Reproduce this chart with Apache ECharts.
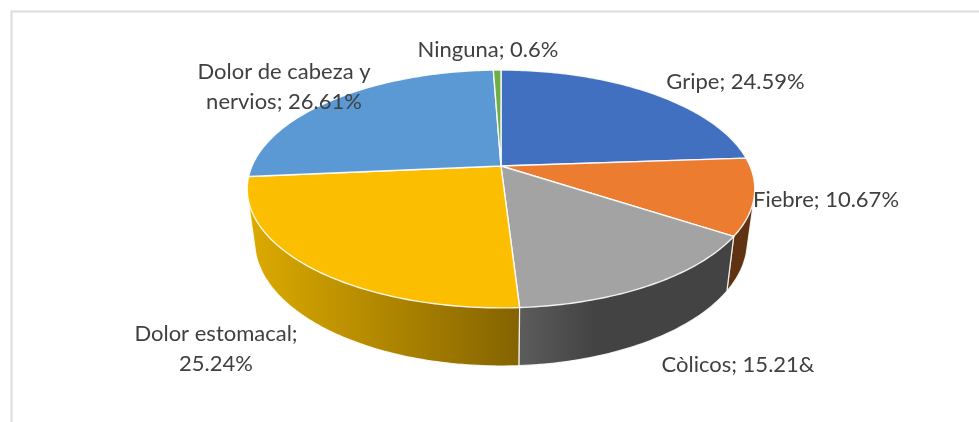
<!DOCTYPE html>
<html>
<head>
<meta charset="utf-8">
<style>html,body{margin:0;padding:0;background:#fff}#c{width:979px;height:422px}</style>
<script src="https://cdn.jsdelivr.net/npm/echarts@6/dist/echarts.min.js"></script>
</head>
<body>
<div id="c"></div>
<script>
const categories = ['Gripe', 'Fiebre', 'Còlicos', 'Dolor estomacal', 'Dolor de cabeza y nervios', 'Ninguna'];
const values = [24.59, 10.67, 15.21, 25.24, 26.61, 0.6];
const labelLines = [
  ['Gripe; 24.59%'],
  ['Fiebre; 10.67%'],
  ['Còlicos; 15.21&'],
  ['Dolor estomacal;', '25.24%'],
  ['Dolor de cabeza y', 'nervios; 26.61%'],
  ['Ninguna; 0.6%']
];
const faceColors = ['#4270C0', '#EC7C30', '#A3A3A3', '#FBBE00', '#5B99D4', '#70AD47'];
const wallStops = [
  [[0, '#2A4478'], [1, '#2A4478']],
  [[0, '#5F3312'], [1, '#5F3312']],
  [[0, '#5C5C5C'], [0.35, '#434343'], [1, '#434343']],
  [[0, '#DDAB00'], [1, '#846300']],
  [[0, '#3A6A99'], [1, '#3A6A99']],
  [[0, '#47702C'], [1, '#47702C']]
];
const labelCenters = [[735.5, 82], [826, 200], [738, 365], [216, 334], [284, 72], [488, 50]];
const LINE_HEIGHT = 30;

// Perspective disc: apex at (cx, topRim.y), near edge larger than far edge.
const cx = 501, skew = -0.193;
const topRim = { k: 249, a: 114.5, y: 166 };
const lowRim = { k: 241.7, a: 120, y: 217.3 };
const project = (rim, deg) => {
  const t = deg * Math.PI / 180, u = Math.sin(t), v = -Math.cos(t), w = 1 + skew * v;
  return [cx + rim.k * u / w, rim.y + rim.a * v / w];
};
const total = values.reduce((s, x) => s + x, 0);
const spans = [];
values.reduce((acc, x, i) => {
  const next = acc + x / total * 360;
  spans[i] = [acc, next];
  return next;
}, 0);
const arc = (rim, a, b) => {
  const pts = [], n = Math.max(2, Math.ceil(Math.abs(b - a)));
  for (let i = 0; i <= n; i++) pts.push(project(rim, a + (b - a) * i / n));
  return pts;
};
// Wall outline: convex hull of both rims, so the sides run straight along the tangent.
const hull = pts => {
  const s = pts.slice().sort((p, q) => p[0] - q[0] || p[1] - q[1]);
  const cross = (o, p, q) => (p[0] - o[0]) * (q[1] - o[1]) - (p[1] - o[1]) * (q[0] - o[0]);
  const half = list => {
    const out = [];
    list.forEach(p => {
      while (out.length > 1 && cross(out[out.length - 2], out[out.length - 1], p) <= 0) out.pop();
      out.push(p);
    });
    out.pop();
    return out;
  };
  return half(s).concat(half(s.slice().reverse()));
};
const backToFront = values.map((_, i) => i).sort((p, q) => {
  const m = i => Math.abs((spans[i][0] + spans[i][1]) / 2 - 180);
  return m(q) - m(p);
});

const chart = echarts.init(document.getElementById('c'), null, { renderer: 'canvas' });
chart.setOption({
  animation: false,
  backgroundColor: '#fff',
  graphic: [{
    type: 'polyline', z: 0, silent: true,
    shape: { points: [[11.5, 422], [11.5, 11.5], [979, 11.5]] },
    style: { stroke: '#DCDCDC', lineWidth: 2, fill: null }
  }],
  series: [
    {
      type: 'custom', coordinateSystem: 'none', z: 2, silent: true,
      data: backToFront.map(i => [i]),
      renderItem: (params, api) => {
        const i = api.value(0), [a, b] = spans[i];
        return {
          type: 'polygon',
          shape: { points: hull(arc(topRim, a, b).concat(arc(lowRim, b, a))) },
          style: {
            fill: new echarts.graphic.LinearGradient(0, 0, 1, 0,
              wallStops[i].map(s => ({ offset: s[0], color: s[1] }))),
            stroke: 'rgba(255,255,255,0.85)', lineWidth: 1.2
          }
        };
      }
    },
    {
      type: 'custom', coordinateSystem: 'none', z: 3, silent: true,
      data: values.map((_, i) => [i]),
      renderItem: (params, api) => {
        const i = api.value(0), [a, b] = spans[i];
        return {
          type: 'polygon',
          shape: { points: [[cx, topRim.y]].concat(arc(topRim, a, b)) },
          style: { fill: faceColors[i], stroke: 'rgba(255,255,255,0.9)', lineWidth: 1.4, lineJoin: 'round' }
        };
      }
    },
    {
      type: 'custom', coordinateSystem: 'none', z: 4, silent: true,
      data: values.map((_, i) => [i]),
      renderItem: (params, api) => {
        const i = api.value(0), lines = labelLines[i], c = labelCenters[i];
        return {
          type: 'group',
          children: lines.map((t, j) => ({
            type: 'text',
            style: {
              text: t, x: c[0], y: c[1] + j * LINE_HEIGHT,
              align: 'center', verticalAlign: 'middle',
              font: '22px Lato, sans-serif', fill: '#404040'
            }
          }))
        };
      }
    }
  ]
});
</script>
</body>
</html>
